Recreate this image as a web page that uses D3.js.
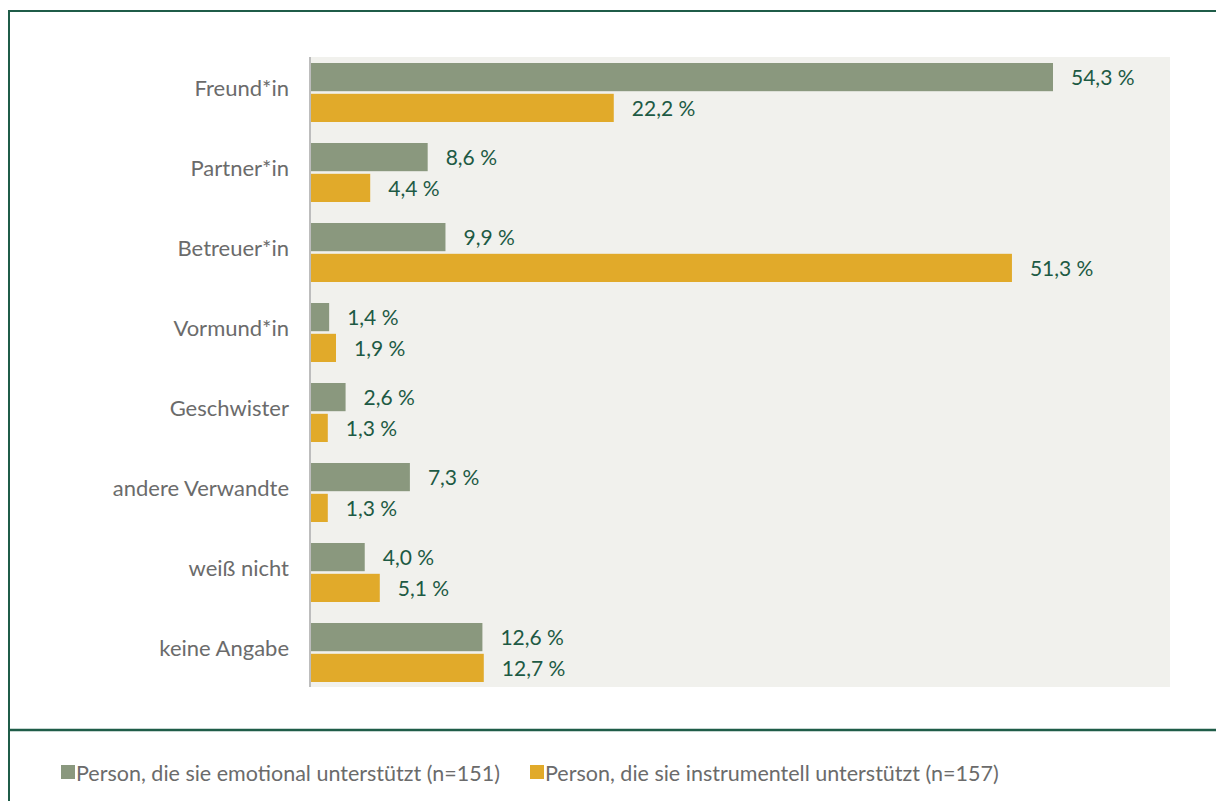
<!DOCTYPE html>
<html>
<head>
<meta charset="utf-8">
<script src="https://cdn.jsdelivr.net/npm/d3@7"></script>
<style>
  body { margin: 0; background: #fff; }
  svg { display: block; font-family: Lato, "Open Sans", sans-serif; }
</style>
</head>
<body>
<div id="chart"></div>
<script>
// categories top to bottom
var categories = ["Freund*in", "Partner*in", "Betreuer*in", "Vormund*in",
  "Geschwister", "andere Verwandte", "weiß nicht", "keine Angabe"];
var emotional = [54.3, 8.6, 9.9, 1.4, 2.6, 7.3, 4.0, 12.6];
var instrumentell = [22.2, 4.4, 51.3, 1.9, 1.3, 1.3, 5.1, 12.7];
var seriesNames = ["Person, die sie emotional unterstützt (n=151)",
  "Person, die sie instrumentell unterstützt (n=157)"];
var seriesColors = ["#8a987e", "#e1aa2a"];

var width = 1216, height = 801;

var svg = d3.select("#chart").append("svg")
  .attr("width", width)
  .attr("height", height);

// frame
svg.append("rect")
  .attr("x", 9).attr("y", 11)
  .attr("width", width + 20).attr("height", height + 20)
  .attr("fill", "none")
  .attr("stroke", "#1f5c48")
  .attr("stroke-width", 2);
svg.append("line")
  .attr("x1", 9).attr("x2", width)
  .attr("y1", 730).attr("y2", 730)
  .attr("stroke", "#1f5c48")
  .attr("stroke-width", 2.5);

var x0 = 310;
var x = d3.scaleLinear().domain([0, 54.3]).range([x0, 1053]);
var y = d3.scaleBand().domain(categories).range([52.5, 692.5]);
var inner = d3.scaleBand().domain([0, 1]).range([10.5, 69.5]).paddingInner(0.085);

// plot background
svg.append("rect")
  .attr("x", x0).attr("y", 57)
  .attr("width", 1170 - x0).attr("height", 630)
  .attr("fill", "#f1f1ed");

var groups = svg.selectAll(".cat")
  .data(categories)
  .enter().append("g")
  .attr("class", "cat")
  .attr("transform", function(d) { return "translate(0," + y(d) + ")"; });

var rows = [emotional, instrumentell];

groups.each(function(c, i) {
  var g = d3.select(this);
  rows.forEach(function(vals, s) {
    g.append("rect")
      .attr("x", x0)
      .attr("y", inner(s))
      .attr("width", x(vals[i]) - x0)
      .attr("height", inner.bandwidth())
      .attr("fill", seriesColors[s]);
    g.append("text")
      .attr("x", x(vals[i]) + 18)
      .attr("y", inner(s) + inner.bandwidth() / 2 + 1)
      .attr("dy", "0.35em")
      .attr("fill", "#1d5a44")
      .style("font-size", "21px")
      .text(d3.format(".1f")(vals[i]).replace(".", ",") + " %");
  });
});

// y axis
var yAxis = svg.append("g")
  .attr("transform", "translate(" + x0 + ",-4)")
  .call(d3.axisLeft(y).tickSize(0).tickPadding(21));
yAxis.select(".domain").remove();
yAxis.selectAll("text")
  .attr("fill", "#6b6b6b")
  .style("font-size", "22px")
  .style("font-family", "Lato, sans-serif");

svg.append("line")
  .attr("x1", x0).attr("x2", x0)
  .attr("y1", 57).attr("y2", 687)
  .attr("stroke", "#bdbdbd")
  .attr("stroke-width", 2);

// legend
var legendX = [61, 530];
var legend = svg.selectAll(".legend")
  .data(seriesNames)
  .enter().append("g")
  .attr("transform", function(d, i) { return "translate(" + legendX[i] + ",765)"; });
legend.append("rect")
  .attr("width", 14).attr("height", 14)
  .attr("fill", function(d, i) { return seriesColors[i]; });
legend.append("text")
  .attr("x", 15).attr("y", 8)
  .attr("dy", "0.35em")
  .attr("fill", "#6b6b6b")
  .style("font-size", "21.5px")
  .text(function(d) { return d; });
</script>
</body>
</html>
